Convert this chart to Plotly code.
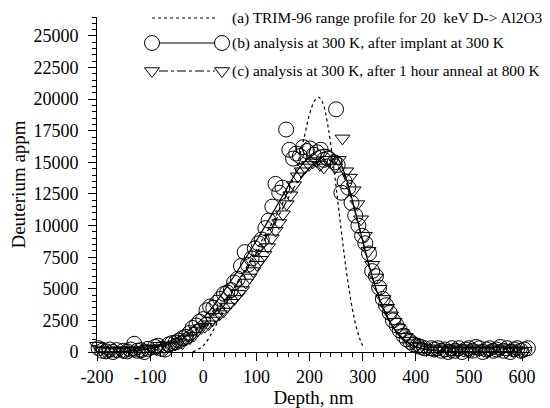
import plotly.graph_objects as go

# ---------------- data ----------------
# (a) TRIM-96 range profile
trim_depth = [-20, 0, 20, 40, 60, 80, 100, 120, 140, 160, 175, 190, 200, 210, 217, 225, 235, 245, 255, 265, 275, 285, 295, 300]
trim_appm = [0, 500, 1800, 3500, 5200, 6600, 8100, 9500, 11000, 12700, 14500, 17000, 18800, 19900, 20150, 19700, 17800, 14800, 11300, 7800, 4800, 2500, 1000, 500]

# (b) analysis at 300 K after implant at 300 K : measured points
b_depth = [-197, -190, -183, -176, -170, -163, -157, -150, -143, -137, -130, -124, -117, -111, -104, -98,
           -91, -85, -78, -72, -65, -59, -52, -46, -39, -33, -26, -20, -13, -7, 0, 6, 13, 19, 26, 32,
           39, 45, 52, 58, 65, 71, 78, 84, 91, 97, 104, 110, 117, 123, 130, 136, 143, 149, 156, 162,
           169, 175, 182, 188, 195, 201, 208, 214, 221, 227, 234, 250, 247, 253, 260, 266, 273, 279,
           286, 292, 299, 305, 312, 318, 325, 331, 338, 344, 351, 357, 364, 370, 377, 383, 390, 396,
           403, 409, 416, 422, 429, 435, 442, 448, 455, 461, 468, 474, 481, 487, 494, 500, 507, 513,
           520, 526, 533, 539, 546, 552, 559, 565, 572, 578, 585, 591, 598, 604, 611]
b_appm = [300, 100, 50, 200, 0, 150, -100, 100, 50, 200, 650, 100, 150, 0, 250, -400,
          400, 500, 250, 200, 600, 700, 750, 900, 1100, 1200, 1500, 1900, 2100, 2400, 2600, 3300, 3600, 3500, 3900, 4200,
          4600, 4700, 4900, 5500, 5800, 6800, 7900, 6900, 7400, 8200, 8600, 8900, 9800, 10400, 11500, 13300, 12600, 13000, 17600, 16000,
          15300, 15700, 15500, 16200, 15900, 16100, 15600, 15800, 16000, 15200, 15300, 19200, 15000, 14800, 12600, 13500, 13000, 11800,
          10800, 10000, 9200, 8600, 7800, 6400, 6000, 5100, 4200, 3700, 3100, 2500, 2100, 1700, 1300, 1000, 800, 600,
          500, 400, 300, -300, 300, 200, 300, 100, 200, 0, 300, 100, 300, 0, 200, 300, 100, 400,
          300, 0, 200, 300, 100, 200, 400, 100, 300, 0, 200, 300, 100, 200, 300]

# (b) fitted curve
b_fit_depth = [-200, -150, -100, -50, 0, 50, 100, 150, 180, 210, 235, 255, 270, 285, 300, 315, 330, 345, 360, 380, 400, 420, 450, 500, 550, 600]
b_fit_appm = [0, 50, 300, 1100, 2700, 5500, 8800, 12400, 14500, 15800, 16000, 15200, 13600, 11300, 8800, 6400, 4400, 2900, 1800, 900, 400, 200, 80, 30, 10, 0]

# (c) analysis at 300 K after 1 hour anneal at 800 K : measured points
c_depth = [-200, -193, -186, -179, -172, -165, -158, -151, -144, -137, -130, -123, -116, -109, -102, -95,
           -88, -81, -74, -67, -60, -53, -46, -39, -32, -25, -18, -11, -4, 3, 10, 17, 24, 31, 38, 45,
           52, 59, 66, 73, 80, 87, 94, 101, 108, 115, 122, 129, 136, 143, 150, 157, 164, 171, 178, 185,
           192, 199, 206, 213, 220, 227, 234, 241, 248, 255, 262, 269, 276, 283, 290, 297, 304, 311,
           318, 325, 332, 339, 346, 353, 360, 367, 374, 381, 388, 395, 402, 409, 416, 423, 430, 437,
           444, 451, 458, 465, 472, 479, 486, 493, 500, 507, 514, 521, 528, 535, 542, 549, 556, 563,
           570, 577, 584, 591, 598, 605]
c_appm = [500, 200, 100, 0, 100, 50, 150, 0, 100, 200, 50, 100, 0, 150, 250, 300,
          200, 500, 300, 400, 500, 600, 800, 700, 1000, 1100, 1300, 1700, 1900, 2000, 2200, 2500, 2800, 3000, 3200, 3600,
          3900, 4200, 4600, 4900, 5500, 5900, 6400, 6900, 7300, 7700, 8300, 9000, 9600, 10200, 10900, 11700, 12400, 13200, 13900, 14300,
          14600, 14800, 15000, 15100, 14800, 14600, 15200, 15000, 14600, 15200, 16900, 14300, 13800, 12800, 11700, 10500, 9200, 8000,
          6900, 5900, 5000, 4200, 3500, 2900, 2400, 1900, 1500, 1200, 900, 700, 500, 400, 300, 200, 300, 100,
          200, 100, 300, 0, 200, 100, 300, 200, 0, 100, 300, 200, 100, 0, 200, 300, 100, 200,
          0, 300, 100, 200, 0, 100]

# (c) fitted curve
c_fit_depth = [-200, -150, -100, -50, 0, 50, 100, 150, 180, 210, 235, 255, 270, 285, 300, 315, 330, 345, 360, 380, 400, 420, 450, 500, 550, 600]
c_fit_appm = [0, 50, 250, 900, 2200, 4600, 7800, 11400, 13600, 14900, 15200, 14600, 13300, 11200, 8800, 6400, 4400, 2900, 1800, 900, 400, 200, 80, 30, 10, 0]

x_tickvals = [-200, -100, 0, 100, 200, 300, 400, 500, 600]
x_ticktext = ["-200", "-100", "0", "100", "200", "300", "400", "500", "600"]
y_tickvals = [0, 2500, 5000, 7500, 10000, 12500, 15000, 17500, 20000, 22500, 25000]
y_ticktext = ["0", "2500", "5000", "7500", "10000", "12500", "15000", "17500", "20000", "22500", "25000"]

legend_labels = ["(a) TRIM-96 range profile for 20  keV D-> Al2O3",
                 "(b) analysis at 300 K, after implant at 300 K",
                 "(c) analysis at 300 K, after 1 hour anneal at 800 K"]

# ---------------- figure ----------------
FONT = "Liberation Serif"
OFF = 8                      # page body margin of the browser
W, H = 550 - OFF, 408 - OFF
ML, MR, MT, MB = 97 - OFF, 20, 17 - OFF, 56
PW, PH = W - ML - MR, H - MT - MB


def px2paper_x(px):
    return (px - OFF - ML) / PW


def px2paper_y(py):
    return (H - MB - (py - OFF)) / PH


fig = go.Figure()

fig.add_trace(go.Scatter(x=trim_depth, y=trim_appm, mode="lines", showlegend=False,
                         line=dict(color="black", width=1.2, dash="dot", shape="spline")))
fig.add_trace(go.Scatter(x=b_fit_depth, y=b_fit_appm, mode="lines", showlegend=False,
                         line=dict(color="black", width=1.2, shape="spline")))
fig.add_trace(go.Scatter(x=c_fit_depth, y=c_fit_appm, mode="lines", showlegend=False,
                         line=dict(color="black", width=1.2, dash="dashdot", shape="spline")))
fig.add_trace(go.Scatter(x=b_depth, y=b_appm, mode="markers", showlegend=False, cliponaxis=False,
                         marker=dict(symbol="circle-open", size=15, color="black", line=dict(width=1))))
fig.add_trace(go.Scatter(x=c_depth, y=c_appm, mode="markers", showlegend=False, cliponaxis=False,
                         marker=dict(symbol="triangle-down-open", size=13, color="black", line=dict(width=1))))

# ---- hand-drawn legend (keys drawn at both ends like the original) ----
row_y = [18, 43, 71]
key_x0, key_x1, text_x = 152, 222, 230
dashes = ["dot", "solid", "dashdot"]
for i, (yy, lab) in enumerate(zip(row_y, legend_labels)):
    x0 = key_x0 if i == 0 else key_x0 + 7
    x1 = key_x1 - 4 if i == 0 else key_x1 - 7
    fig.add_shape(type="line", xref="paper", yref="paper",
                  x0=px2paper_x(x0), x1=px2paper_x(x1), y0=px2paper_y(yy), y1=px2paper_y(yy),
                  line=dict(color="black", width=1.2, dash=dashes[i]))
    fig.add_annotation(xref="paper", yref="paper", x=px2paper_x(text_x), y=px2paper_y(yy),
                       xanchor="left", yanchor="middle", showarrow=False, text=lab,
                       font=dict(family=FONT, size=15.4, color="black"))

fig.add_trace(go.Scatter(x=[px2paper_x(key_x0), px2paper_x(key_x1)],
                         y=[px2paper_y(row_y[1])] * 2, xaxis="x2", yaxis="y2",
                         mode="markers", showlegend=False, cliponaxis=False, hoverinfo="skip",
                         marker=dict(symbol="circle-open", size=15, color="black", line=dict(width=1))))
fig.add_trace(go.Scatter(x=[px2paper_x(key_x0), px2paper_x(key_x1)],
                         y=[px2paper_y(row_y[2])] * 2, xaxis="x2", yaxis="y2",
                         mode="markers", showlegend=False, cliponaxis=False, hoverinfo="skip",
                         marker=dict(symbol="triangle-down-open", size=13, color="black", line=dict(width=1))))

fig.update_layout(
    width=W, height=H,
    margin=dict(l=ML, r=MR, t=MT, b=MB, autoexpand=False),
    paper_bgcolor="white", plot_bgcolor="white",
    font=dict(family=FONT, size=18, color="black"),
    showlegend=False,
    xaxis=dict(range=[-200, 615], showgrid=False, zeroline=False,
               showline=True, linecolor="black", linewidth=1,
               tickmode="array", tickvals=x_tickvals, ticktext=x_ticktext,
               ticks="outside", ticklen=8, tickcolor="black",
               minor=dict(dtick=20, ticks="outside", ticklen=4, tickcolor="black"),
               title=dict(text="Depth, nm", font=dict(size=19), standoff=2),
               tickfont=dict(size=18)),
    yaxis=dict(range=[0, 26500], showgrid=False, zeroline=False,
               showline=True, linecolor="black", linewidth=1,
               tickmode="array", tickvals=y_tickvals, ticktext=y_ticktext,
               ticks="outside", ticklen=8, tickcolor="black", ticklabelstandoff=6,
               minor=dict(dtick=500, ticks="outside", ticklen=4, tickcolor="black"),
               title=dict(text="Deuterium appm", font=dict(size=19), standoff=6),
               tickfont=dict(size=18)),
    xaxis2=dict(overlaying="x", range=[0, 1], visible=False, fixedrange=True),
    yaxis2=dict(overlaying="y", range=[0, 1], visible=False, fixedrange=True),
)

fig.write_html("out.html")
